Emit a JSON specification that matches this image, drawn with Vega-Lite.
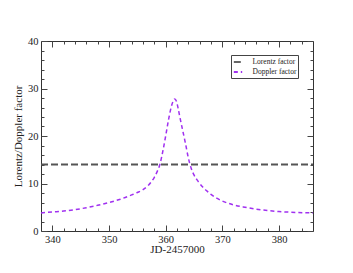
{
  "$schema": "https://vega.github.io/schema/vega-lite/v6.json",
  "width": 272,
  "height": 190,
  "autosize": "none",
  "padding": {"left": 41, "top": 41, "right": 40, "bottom": 42},
  "background": "white",
  "config": {
    "view": {"stroke": "#333333", "strokeWidth": 1},
    "font": "Liberation Serif",
    "axis": {"grid": false, "labelFont": "Liberation Serif", "titleFont": "Liberation Serif", "labelColor": "#222", "titleColor": "#222", "tickColor": "#444", "domain": false, "titleFontWeight": "normal", "labelFontSize": 10.5, "titleFontSize": 11}
  },
  "datasets": {
    "doppler": [
      {"jd": 338, "value": 3.8, "series": "Doppler factor"},
      {"jd": 340, "value": 4.0, "series": "Doppler factor"},
      {"jd": 342, "value": 4.2, "series": "Doppler factor"},
      {"jd": 344, "value": 4.5, "series": "Doppler factor"},
      {"jd": 346, "value": 4.9, "series": "Doppler factor"},
      {"jd": 348, "value": 5.4, "series": "Doppler factor"},
      {"jd": 350, "value": 6.0, "series": "Doppler factor"},
      {"jd": 352, "value": 6.7, "series": "Doppler factor"},
      {"jd": 354, "value": 7.6, "series": "Doppler factor"},
      {"jd": 355, "value": 8.1, "series": "Doppler factor"},
      {"jd": 356, "value": 8.7, "series": "Doppler factor"},
      {"jd": 357, "value": 9.7, "series": "Doppler factor"},
      {"jd": 357.5, "value": 10.4, "series": "Doppler factor"},
      {"jd": 358, "value": 11.3, "series": "Doppler factor"},
      {"jd": 358.5, "value": 12.5, "series": "Doppler factor"},
      {"jd": 359, "value": 14.1, "series": "Doppler factor"},
      {"jd": 359.5, "value": 16.8, "series": "Doppler factor"},
      {"jd": 360, "value": 20.0, "series": "Doppler factor"},
      {"jd": 360.5, "value": 23.4, "series": "Doppler factor"},
      {"jd": 361, "value": 26.2, "series": "Doppler factor"},
      {"jd": 361.3, "value": 27.3, "series": "Doppler factor"},
      {"jd": 361.6, "value": 27.8, "series": "Doppler factor"},
      {"jd": 361.9, "value": 27.3, "series": "Doppler factor"},
      {"jd": 362.2, "value": 25.8, "series": "Doppler factor"},
      {"jd": 362.5, "value": 24.0, "series": "Doppler factor"},
      {"jd": 363, "value": 21.2, "series": "Doppler factor"},
      {"jd": 363.5, "value": 18.4, "series": "Doppler factor"},
      {"jd": 364, "value": 15.4, "series": "Doppler factor"},
      {"jd": 364.5, "value": 13.2, "series": "Doppler factor"},
      {"jd": 365, "value": 11.8, "series": "Doppler factor"},
      {"jd": 365.7, "value": 10.5, "series": "Doppler factor"},
      {"jd": 366.5, "value": 9.3, "series": "Doppler factor"},
      {"jd": 367.3, "value": 8.4, "series": "Doppler factor"},
      {"jd": 368, "value": 7.7, "series": "Doppler factor"},
      {"jd": 369, "value": 6.9, "series": "Doppler factor"},
      {"jd": 370, "value": 6.3, "series": "Doppler factor"},
      {"jd": 372, "value": 5.5, "series": "Doppler factor"},
      {"jd": 374, "value": 5.0, "series": "Doppler factor"},
      {"jd": 376, "value": 4.6, "series": "Doppler factor"},
      {"jd": 378, "value": 4.3, "series": "Doppler factor"},
      {"jd": 380, "value": 4.1, "series": "Doppler factor"},
      {"jd": 383, "value": 3.9, "series": "Doppler factor"},
      {"jd": 386, "value": 3.8, "series": "Doppler factor"}
    ],
    "lorentz": [
      {"jd": 338, "value": 14, "series": "Lorentz factor"},
      {"jd": 386, "value": 14, "series": "Lorentz factor"}
    ]
  },
  "layer": [
    {
      "data": {"name": "lorentz"},
      "mark": {"type": "line", "strokeWidth": 2, "clip": true},
      "encoding": {
        "x": {"field": "jd", "type": "quantitative", "scale": {"domain": [338, 386], "nice": false, "zero": false},
          "axis": {"orient": "bottom", "values": [340, 350, 360, 370, 380], "tickSize": -6, "labelPadding": 9, "title": "JD-2457000", "titlePadding": -1}},
        "y": {"field": "value", "type": "quantitative", "scale": {"domain": [0, 40], "nice": false},
          "axis": {"orient": "left", "values": [0, 10, 20, 30, 40], "tickSize": -6, "labelPadding": 9, "title": "Lorentz/Doppler factor", "titlePadding": 4}},
        "color": {"field": "series", "type": "nominal", "scale": {"domain": ["Lorentz factor", "Doppler factor"], "range": ["#555555", "#a030f0"]},
          "legend": {"orient": "none", "legendX": 190, "legendY": 14, "title": null, "strokeColor": "#444", "fillColor": "white", "padding": 1.5, "labelFont": "Liberation Serif", "labelFontSize": 7.5, "labelColor": "#222", "symbolType": "stroke", "symbolSize": 70, "symbolStrokeWidth": 1.8, "rowPadding": 0, "labelOffset": 9}},
        "strokeDash": {"field": "series", "type": "nominal", "scale": {"domain": ["Lorentz factor", "Doppler factor"], "range": [[7, 3], [4, 3]]}, "legend": null}
      }
    },
    {
      "data": {"name": "doppler"},
      "mark": {"type": "line", "interpolate": "monotone", "strokeWidth": 1.5, "clip": true},
      "encoding": {
        "x": {"field": "jd", "type": "quantitative",
          "axis": {"orient": "bottom", "values": [342, 344, 346, 348, 352, 354, 356, 358, 362, 364, 366, 368, 372, 374, 376, 378, 382, 384], "tickSize": -3, "labels": false, "title": null}},
        "y": {"field": "value", "type": "quantitative",
          "axis": {"orient": "left", "values": [2, 4, 6, 8, 12, 14, 16, 18, 22, 24, 26, 28, 32, 34, 36, 38], "tickSize": -3, "labels": false, "title": null}},
        "color": {"field": "series", "type": "nominal"},
        "strokeDash": {"field": "series", "type": "nominal", "legend": null}
      }
    },
    {
      "data": {"name": "lorentz"},
      "mark": {"type": "line", "strokeOpacity": 0, "clip": true},
      "encoding": {
        "x": {"field": "jd", "type": "quantitative",
          "axis": {"orient": "top", "values": [340, 350, 360, 370, 380], "tickSize": -6, "labels": false, "title": null}},
        "y": {"field": "value", "type": "quantitative",
          "axis": {"orient": "right", "values": [0, 10, 20, 30, 40], "tickSize": -6, "labels": false, "title": null}}
      }
    },
    {
      "data": {"name": "lorentz"},
      "mark": {"type": "line", "strokeOpacity": 0, "clip": true},
      "encoding": {
        "x": {"field": "jd", "type": "quantitative",
          "axis": {"orient": "top", "values": [342, 344, 346, 348, 352, 354, 356, 358, 362, 364, 366, 368, 372, 374, 376, 378, 382, 384], "tickSize": -3, "labels": false, "title": null}},
        "y": {"field": "value", "type": "quantitative",
          "axis": {"orient": "right", "values": [2, 4, 6, 8, 12, 14, 16, 18, 22, 24, 26, 28, 32, 34, 36, 38], "tickSize": -3, "labels": false, "title": null}}
      }
    }
  ],
  "resolve": {"axis": {"x": "independent", "y": "independent"}}
}
